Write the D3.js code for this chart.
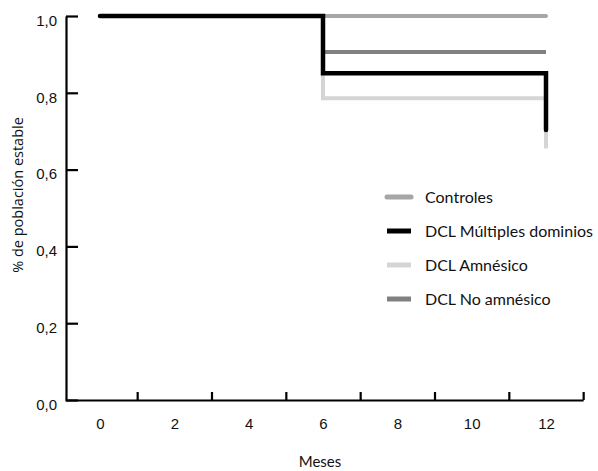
<!DOCTYPE html>
<html lang="es">
<head>
    <meta charset="UTF-8">
    <title>Población estable</title>
    <script src="https://cdn.jsdelivr.net/npm/d3@7.9.0/dist/d3.min.js"></script>
    <style>
        body {
            margin: 0;
            background: #fff;
        }

        svg {
            display: block;
        }

        .tick text {
            font-family: 'Liberation Sans', Arial, sans-serif;
            font-size: 15px;
            fill: #111;
        }

        .axis path,
        .axis line {
            stroke: #000;
            stroke-width: 2.2px;
        }

        .title {
            fill: #111;
        }

        .legend-text {
            font-family: Lato, 'Open Sans', sans-serif;
            font-size: 16px;
            fill: #111;
        }
    </style>
</head>
<body>
<svg id="chart" width="598" height="471"></svg>

<script>
    // --- data ---
    const seriesNames = ["Controles", "DCL Múltiples dominios", "DCL Amnésico", "DCL No amnésico"];
    const seriesColors = ["#a6a6a8", "#000000", "#d5d5d5", "#808082"];

    // Kaplan-Meier steps: months and proportion stable
    const controlesMonths = [0, 12];
    const controlesValues = [1.0, 1.0];
    const multiplesMonths = [0, 6, 12, 12];
    const multiplesValues = [1.0, 0.851, 0.851, 0.703];
    const amnesicoMonths = [0, 6, 12, 12];
    const amnesicoValues = [1.0, 0.786, 0.786, 0.655];
    const noAmnesicoMonths = [0, 6, 12];
    const noAmnesicoValues = [1.0, 0.906, 0.906];

    const xLabelValues = [0, 2, 4, 6, 8, 10, 12];
    const xTickValues = [1, 3, 5, 7, 9, 11, 13];
    const yTickValues = [0, 0.2, 0.4, 0.6, 0.8, 1.0];

    const svg = d3.select("#chart");

    const x = d3.scaleLinear().domain([0, 12]).range([100, 546]);
    const y = d3.scaleLinear().domain([0, 1]).range([400, 16]);
    const fmt = d => d3.format(".1f")(d).replace(".", ",");

    // x axis: line with inward ticks between labels
    const xAxisScale = x.copy().domain([-0.94, 13]).range([x(-0.94), x(13)]);
    svg.append("g")
        .attr("class", "axis")
        .attr("transform", `translate(0,${y(0)})`)
        .call(d3.axisBottom(xAxisScale).tickValues(xTickValues).tickSizeInner(-8).tickSizeOuter(0).tickFormat(""));

    svg.append("g")
        .attr("transform", `translate(0,${y(0)})`)
        .call(d3.axisBottom(x).tickValues(xLabelValues).tickSize(0).tickPadding(18))
        .call(g => g.select(".domain").remove());

    // y axis
    svg.append("g")
        .attr("class", "axis")
        .attr("transform", `translate(66,0)`)
        .call(d3.axisLeft(y).tickValues(yTickValues).tickSizeInner(-12).tickSizeOuter(0).tickPadding(9).tickFormat(fmt))
        .call(g => g.selectAll(".tick text").attr("dy", "0.68em").attr("y", 0).attr("transform", "translate(0,-1)"));

    // lines
    const line = d3.line()
        .x(d => x(d[0]))
        .y(d => y(d[1]))
        .curve(d3.curveStepAfter);

    const series = [
        {name: seriesNames[2], months: amnesicoMonths, values: amnesicoValues, color: seriesColors[2], width: 4, cap: "butt"},
        {name: seriesNames[3], months: noAmnesicoMonths, values: noAmnesicoValues, color: seriesColors[3], width: 4, cap: "butt"},
        {name: seriesNames[0], months: controlesMonths, values: controlesValues, color: seriesColors[0], width: 4, cap: "round"},
        {name: seriesNames[1], months: multiplesMonths, values: multiplesValues, color: seriesColors[1], width: 4.5, cap: "round"}
    ];

    svg.append("g")
        .selectAll("path")
        .data(series)
        .enter().append("path")
        .attr("fill", "none")
        .attr("stroke", d => d.color)
        .attr("stroke-width", d => d.width)
        .attr("stroke-linecap", d => d.cap)
        .attr("stroke-linejoin", "miter")
        .attr("d", d => line(d.months.map((m, i) => [m, d.values[i]])));

    // axis titles
    svg.append("text")
        .attr("class", "title")
        .attr("x", 320)
        .attr("y", 467)
        .attr("text-anchor", "middle")
        .style("font-family", "Lato, 'Open Sans', sans-serif")
        .style("font-size", "15px")
        .text("Meses");

    svg.append("text")
        .attr("class", "title")
        .attr("transform", "translate(23,195) rotate(-90)")
        .attr("text-anchor", "middle")
        .style("font-family", "'Open Sans', sans-serif")
        .style("font-size", "14.5px")
        .text("% de población estable");

    // legend
    const legend = svg.append("g").attr("transform", "translate(385,197)");
    const items = legend.selectAll("g")
        .data(seriesNames)
        .enter().append("g")
        .attr("transform", (d, i) => `translate(0,${i * 34})`);

    items.append("line")
        .attr("x1", 2).attr("x2", 26)
        .attr("stroke", (d, i) => seriesColors[i])
        .attr("stroke-width", 5)
        .attr("stroke-linecap", (d, i) => i === 0 ? "round" : "butt");

    items.append("text")
        .attr("class", "legend-text")
        .attr("x", 40)
        .attr("dy", "0.35em")
        .text(d => d);
</script>
</body>
</html>
